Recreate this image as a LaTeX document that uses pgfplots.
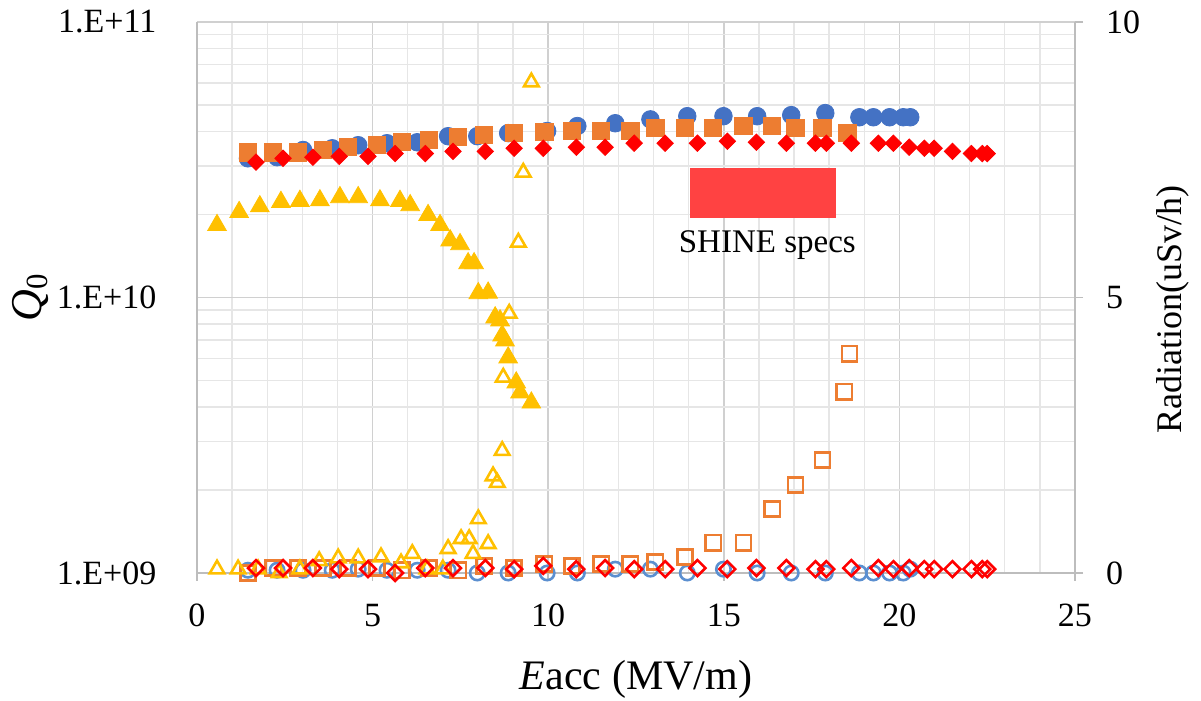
\documentclass[border=0pt]{standalone}
\usepackage{fontspec}
\setmainfont{Liberation Serif}
\usepackage{pgfplots}
\pgfplotsset{compat=1.18}

\definecolor{cblue}{HTML}{4472C4}
\definecolor{cblueh}{HTML}{5B8FD0}
\definecolor{corange}{HTML}{ED7D31}
\definecolor{cyellow}{HTML}{FFC000}
\definecolor{cred}{HTML}{FF0000}
\definecolor{cspec}{HTML}{FF4242}
\definecolor{gmaj}{HTML}{D0D0D0}
\definecolor{gmin}{HTML}{E6E6E6}
\definecolor{axgray}{HTML}{BDBDBD}

\pgfplotsset{
  base/.style={
    scale only axis, width=439pt, height=275.5pt,
    at={(0,0)}, anchor=south west,
    xmin=0, xmax=25, clip=false,
    /pgf/number format/assume math mode=true,
    tick label style={font=\fontsize{17}{20}\selectfont},
    axis line style={axgray, line width=0.9pt, -},
  },
}

\begin{document}
\begin{tikzpicture}
\useasboundingbox (-98.5pt,-64pt) rectangle (502pt,286.5pt);

% left axis: Q0 (filled markers)
\begin{axis}[base,
  ymode=log, ymin=1e9, ymax=1e11,
  axis x line*=bottom, axis y line*=left,
  xtick={0,5,10,15,20,25}, minor x tick num=4,
  ytick={1e9,1e10,1e11}, yticklabels={1.E+09,1.E+10,1.E+11},
  xmajorgrids, xminorgrids, ymajorgrids, yminorgrids,
  major grid style={gmaj, line width=0.8pt},
  minor grid style={gmin, line width=0.7pt},
  tick align=outside, major tick length=4pt, minor tick length=0pt,
  x tick style={axgray, line width=0.9pt},
  y tick style={draw=none},
  yticklabel style={xshift=-12.8pt},
  xticklabel style={yshift=-8pt},
  xlabel={\textit{E}acc (MV/m)},
  xlabel style={font=\fontsize{21}{24}\selectfont, at={(axis description cs:0.5,0)}, anchor=base, yshift=-58.5pt},
  ylabel={\textit{Q}\textsubscript{0}},
  ylabel style={font=\fontsize{22}{25}\selectfont, at={(axis description cs:-0.19,0.5)}, anchor=center},
]
% SHINE specs box
\addplot[draw=none, fill=cspec, forget plot] coordinates {(14.05,1.95e10) (18.2,1.95e10) (18.2,2.94e10) (14.05,2.94e10)} -- cycle;
\node[font=\fontsize{16.5}{19}\selectfont, anchor=base] at (axis cs:16.24,1.46e10) {SHINE specs};

\addplot[only marks, mark=*, mark size=4.4pt, mark options={draw=cblue, fill=cblue}] coordinates {
(1.45,3.20e10) (2.28,3.23e10) (3.02,3.43e10) (3.85,3.48e10) (4.59,3.57e10) (5.41,3.63e10)
(6.27,3.66e10) (7.15,3.85e10) (7.98,3.85e10) (8.86,3.95e10) (9.97,4.02e10) (10.83,4.19e10)
(11.91,4.29e10) (12.91,4.43e10) (13.96,4.55e10) (14.99,4.55e10) (15.95,4.55e10) (16.92,4.59e10)
(17.89,4.67e10) (18.86,4.51e10) (19.26,4.51e10) (19.72,4.51e10) (20.11,4.51e10) (20.31,4.51e10)
};
\addplot[only marks, mark=square*, mark size=4.3pt, mark options={draw=corange, fill=corange}] coordinates {
(1.45,3.36e10) (2.17,3.36e10) (2.88,3.36e10) (3.59,3.43e10) (4.30,3.51e10) (5.13,3.57e10)
(5.84,3.66e10) (6.61,3.73e10) (7.44,3.82e10) (8.18,3.88e10) (9.03,3.95e10) (9.89,3.98e10)
(10.68,4.02e10) (11.51,4.02e10) (12.34,4.02e10) (13.05,4.12e10) (13.90,4.12e10) (14.70,4.12e10)
(15.56,4.19e10) (16.38,4.19e10) (17.04,4.12e10) (17.81,4.12e10) (18.52,3.95e10)
};
\addplot[only marks, mark=triangle*, mark size=5.4pt, mark options={draw=cyellow, fill=cyellow}] coordinates {
(0.57,1.83e10) (1.20,2.04e10) (1.79,2.14e10) (2.39,2.22e10) (2.93,2.24e10) (3.50,2.25e10)
(4.07,2.31e10) (4.59,2.31e10) (5.21,2.25e10) (5.78,2.24e10) (6.07,2.16e10) (6.58,1.99e10)
(6.92,1.83e10) (7.21,1.61e10) (7.49,1.56e10) (7.72,1.33e10) (7.89,1.33e10) (8.01,1.035e10)
(8.29,1.04e10) (8.49,8.46e9) (8.63,8.25e9) (8.69,7.28e9) (8.77,6.98e9) (8.86,6.05e9)
(9.09,4.91e9) (9.20,4.52e9) (9.52,4.15e9)
};
\addplot[only marks, mark=square*, mark size=2.9pt, mark options={rotate=45, draw=cred, fill=cred}] coordinates {
(1.68,3.10e10) (2.45,3.20e10) (3.30,3.23e10) (4.05,3.25e10) (4.87,3.25e10) (5.64,3.33e10)
(6.50,3.33e10) (7.29,3.39e10) (8.21,3.39e10) (9.03,3.48e10) (9.86,3.48e10) (10.80,3.51e10)
(11.62,3.51e10) (12.45,3.63e10) (13.33,3.63e10) (14.25,3.63e10) (15.10,3.69e10) (15.93,3.66e10)
(16.78,3.63e10) (17.61,3.63e10) (17.92,3.63e10) (18.63,3.63e10) (19.40,3.63e10) (19.83,3.63e10)
(20.28,3.51e10) (20.71,3.48e10) (20.99,3.48e10) (21.51,3.39e10) (22.05,3.33e10) (22.36,3.33e10)
(22.50,3.33e10)
};
\end{axis}

% right axis: radiation (hollow markers)
\begin{axis}[base,
  ymin=0, ymax=10, ytick={0,5,10},
  axis y line*=right, axis x line=none,
  tick align=outside, major tick length=4pt,
  y tick style={axgray, line width=0.9pt},
  yticklabel style={xshift=8pt},
  ylabel={Radiation(uSv/h)},
  ylabel style={font=\fontsize{18}{21}\selectfont, at={(axis description cs:1.112,0.479)}, anchor=center},
]
\addplot[only marks, mark=o, mark size=3.6pt, mark options={draw=cblueh, line width=1.3pt}] coordinates {
(1.45,0.05) (2.28,0.05) (3.02,0.05) (3.85,0.05) (4.59,0.07) (5.41,0.05) (6.27,0.05) (7.15,0.05)
(7.98,0.0) (8.86,0.0) (9.97,0.0) (10.83,0.0) (11.91,0.07) (12.91,0.07) (13.96,0.0) (14.99,0.07)
(15.95,0.0) (16.92,0.0) (17.89,0.0) (18.86,0.0) (19.26,0.0) (19.72,0.0) (20.11,0.0) (20.31,0.07)
};
\addplot[only marks, mark=square, mark size=3.8pt, mark options={draw=corange, line width=1.3pt}] coordinates {
(1.45,0.0) (2.17,0.09) (2.88,0.09) (3.59,0.09) (4.30,0.09) (5.13,0.09) (5.84,0.05) (6.61,0.09)
(7.44,0.05) (8.18,0.13) (9.03,0.09) (9.89,0.16) (10.68,0.13) (11.51,0.16) (12.34,0.16) (13.05,0.2)
(13.90,0.29) (14.70,0.55) (15.56,0.55) (16.38,1.16) (17.04,1.6) (17.81,2.05) (18.43,3.29) (18.58,3.98)
};
\addplot[only marks, mark=triangle, mark size=4.2pt, mark options={draw=cyellow, line width=1.3pt}] coordinates {
(0.57,0.07) (1.17,0.07) (1.74,0.07) (2.34,0.0) (2.93,0.07) (3.48,0.22) (4.02,0.27) (4.59,0.27)
(5.24,0.29) (5.81,0.18) (6.13,0.35) (6.55,0.07) (7.00,0.07) (7.15,0.44) (7.52,0.62) (7.75,0.62)
(7.86,0.35) (8.01,0.98) (8.29,0.53) (8.43,1.76) (8.55,1.64) (8.69,2.22) (8.72,3.55) (8.89,4.71)
(9.15,6.0) (9.29,7.27) (9.52,8.91)
};
\addplot[only marks, mark=square, mark size=2.8pt, mark options={rotate=45, draw=cred, line width=1.3pt}] coordinates {
(1.68,0.09) (2.45,0.09) (3.30,0.09) (4.05,0.07) (4.87,0.07) (5.64,0.0) (6.50,0.09) (7.29,0.09)
(8.21,0.09) (9.03,0.07) (9.86,0.13) (10.80,0.07) (11.62,0.09) (12.45,0.07) (13.33,0.07) (14.25,0.09)
(15.10,0.07) (15.93,0.09) (16.78,0.09) (17.61,0.07) (17.92,0.07) (18.63,0.09) (19.40,0.09) (19.83,0.07)
(20.28,0.09) (20.71,0.07) (20.99,0.07) (21.51,0.07) (22.05,0.07) (22.36,0.07) (22.50,0.07)
};
\end{axis}
\end{tikzpicture}
\end{document}
